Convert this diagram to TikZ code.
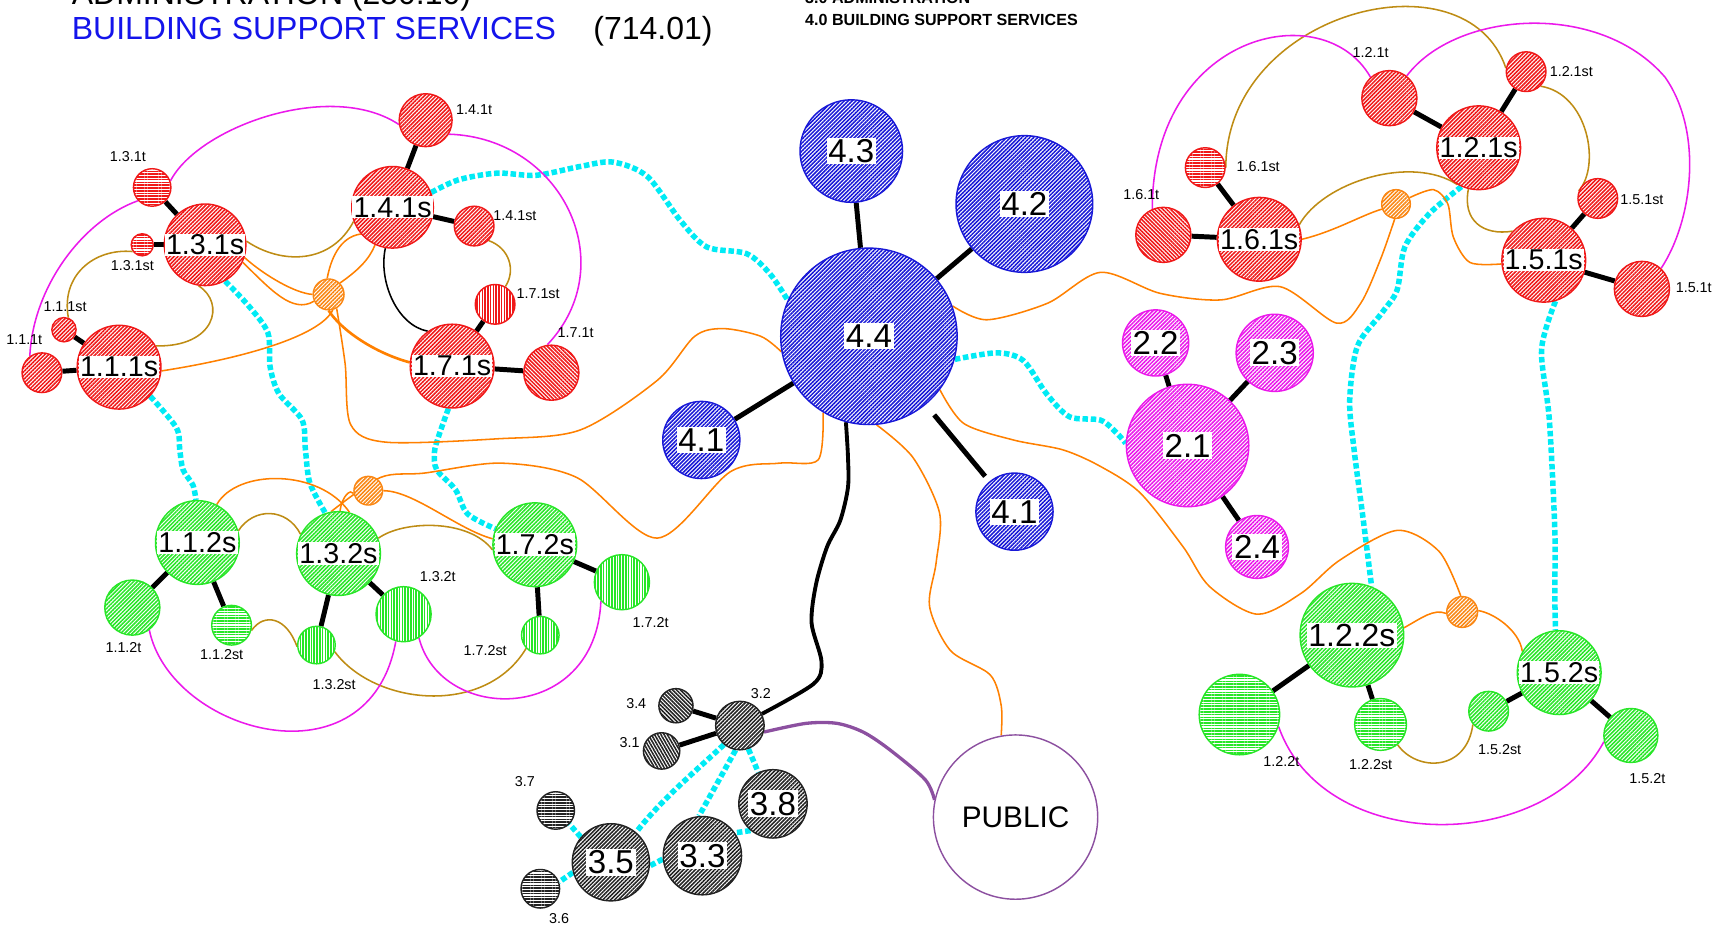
\documentclass[tikz,border=0pt]{standalone}
\usepackage{fontspec}
\setmainfont{Liberation Sans}
\usetikzlibrary{patterns.meta,backgrounds}
\definecolor{rmred}{RGB}{240,25,25}
\definecolor{rmgreen}{RGB}{40,230,40}
\definecolor{rmblue}{RGB}{25,25,215}
\definecolor{rmpink}{RGB}{235,25,235}
\definecolor{rmgrey}{RGB}{35,35,35}
\definecolor{hubor}{RGB}{250,135,20}
\definecolor{flowor}{RGB}{255,128,0}
\definecolor{goldline}{RGB}{190,140,20}
\definecolor{cyanline}{RGB}{0,235,245}
\definecolor{pubpurple}{RGB}{140,80,160}
\definecolor{hdblue}{RGB}{20,20,235}
\tikzset{
  rm/.style={circle, draw=#1, line width=1.3pt, inner sep=0pt, preaction={fill=white},
    pattern={Lines[angle=45,distance=2.5pt,line width=1.4pt]}, pattern color=#1},
  hatch/.style={pattern={Lines[angle=#1,distance=2.5pt,line width=1.4pt]}},
  hub/.style={rm=hubor, minimum size=#1},
  roomtag/.style={fill=white, inner sep=1pt, font=\fontsize{26}{26}\selectfont},
  numtag/.style={fill=white, inner sep=1.5pt, font=\fontsize{30}{30}\selectfont},
  smalltag/.style={inner sep=0pt, font=\fontsize{13}{13}\selectfont},
  spoke/.style={line width=4.5pt},
  walkway/.style={cyanline, line width=5pt, dash pattern=on 5pt off 2.5pt},
  flowline/.style={flowor, line width=1.4pt},
  pairline/.style={goldline, line width=1.4pt},
  levelline/.style={rmpink, line width=1.4pt},
  publine/.style={pubpurple, line width=3pt},
}
\begin{document}
\begin{tikzpicture}[x=1pt, y=-1pt]
\useasboundingbox (0,0) rectangle (1568,843);
% headings
\node[anchor=base west, inner sep=0pt, font=\fontsize{29}{29}\selectfont] (hdadm) at (65,4.5) {ADMINISTRATION (250.10)};
\node[anchor=base west, inner sep=0pt, font=\fontsize{29}{29}\selectfont, text=hdblue] (hdbss) at (65,35.4) {BUILDING SUPPORT SERVICES};
\node[anchor=base west, inner sep=0pt, font=\fontsize{29}{29}\selectfont] (hdnum) at (538,35.4) {(714.01)};
\node[anchor=base west, inner sep=0pt, font=\bfseries\fontsize{14.6}{14.6}\selectfont] (keyadm) at (730,3.6) {3.0 ADMINISTRATION};
\node[anchor=base west, inner sep=0pt, font=\bfseries\fontsize{14.6}{14.6}\selectfont] (keybss) at (730,22.7) {4.0 BUILDING SUPPORT SERVICES};

% level 1, left
\node[rm=rmred, minimum size=74, label={[roomtag]center:1.3.1s}] (r13s) at (186,222) {};
\node[rm=rmred, hatch=0, minimum size=34] (r13t) at (138,170) {};
\node[rm=rmred, hatch=0, minimum size=20] (r13st) at (129,222) {};
\node[rm=rmred, minimum size=74, label={[roomtag]center:1.4.1s}] (r14s) at (356,188) {};
\node[rm=rmred, minimum size=48] (r14t) at (386,109) {};
\node[rm=rmred, minimum size=36] (r14st) at (430,205) {};
\node[rm=rmred, minimum size=76, label={[roomtag]center:1.7.1s}] (r17s) at (410,332) {};
\node[rm=rmred, hatch=90, minimum size=36] (r17st) at (449,276) {};
\node[rm=rmred, hatch=-45, minimum size=50] (r17t) at (500,338) {};
\node[rm=rmred, minimum size=76, label={[roomtag]center:1.1.1s}] (r11s) at (108,333) {};
\node[rm=rmred, minimum size=22] (r11st) at (58,299) {};
\node[rm=rmred, minimum size=36] (r11t) at (38,338) {};
\node[hub=28] (hubL) at (298,267) {};
% level 1, right
\node[rm=rmred, minimum size=76, label={[roomtag]center:1.2.1s}] (r12s) at (1341,134) {};
\node[rm=rmred, minimum size=50] (r12t) at (1260,89) {};
\node[rm=rmred, minimum size=36] (r12st) at (1384,65) {};
\node[rm=rmred, minimum size=76, label={[roomtag]center:1.6.1s}] (r16s) at (1142,217) {};
\node[rm=rmred, hatch=0, minimum size=36] (r16st) at (1093,152) {};
\node[rm=rmred, hatch=-45, minimum size=50] (r16t) at (1055,213) {};
\node[rm=rmred, minimum size=76, label={[roomtag]center:1.5.1s}] (r15s) at (1400,236) {};
\node[rm=rmred, minimum size=36] (r15st) at (1449,180) {};
\node[rm=rmred, minimum size=50] (r15t) at (1489,262) {};
\node[hub=26] (hubR) at (1266,185) {};
% level 2
\node[rm=rmgreen, minimum size=76, label={[roomtag]center:1.1.2s}] (g112s) at (179,492) {};
\node[rm=rmgreen, minimum size=50] (g112t) at (120,551) {};
\node[rm=rmgreen, hatch=0, minimum size=36] (g112st) at (210,567) {};
\node[rm=rmgreen, minimum size=76, label={[roomtag]center:1.3.2s}] (g132s) at (307,502) {};
\node[rm=rmgreen, hatch=90, minimum size=34] (g132st) at (287,585) {};
\node[rm=rmgreen, hatch=90, minimum size=50] (g132t) at (366,557) {};
\node[rm=rmgreen, minimum size=76, label={[roomtag]center:1.7.2s}] (g172s) at (485,494) {};
\node[rm=rmgreen, hatch=90, minimum size=50] (g172t) at (564,528) {};
\node[rm=rmgreen, hatch=90, minimum size=34] (g172st) at (490,576) {};
\node[hub=26] (hubGL) at (334,445) {};
\node[rm=rmgreen, minimum size=94, label={[roomtag, font=\fontsize{29}{29}\selectfont]center:1.2.2s}] (g122s) at (1226,576) {};
\node[rm=rmgreen, hatch=0, minimum size=73] (g122t) at (1124,648) {};
\node[rm=rmgreen, hatch=0, minimum size=47] (g122st) at (1252,657) {};
\node[rm=rmgreen, minimum size=76, label={[roomtag]center:1.5.2s}] (g152s) at (1414,610) {};
\node[rm=rmgreen, minimum size=36] (g152st) at (1350,645) {};
\node[rm=rmgreen, minimum size=49] (g152t) at (1479,667) {};
\node[hub=28] (hubGR) at (1326,555) {};
% building support
\node[rm=rmblue, minimum size=160, label={[numtag]center:4.4}] (b44) at (788,305) {};
\node[rm=rmblue, minimum size=93, label={[numtag]center:4.3}] (b43) at (772,137) {};
\node[rm=rmblue, minimum size=124, label={[numtag]center:4.2}] (b42) at (929,185) {};
\node[rm=rmblue, minimum size=70, label={[numtag]center:4.1}] (b41a) at (636,399) {};
\node[rm=rmblue, minimum size=70, label={[numtag]center:4.1}] (b41b) at (920,464) {};
% 2.x
\node[rm=rmpink, minimum size=111, label={[numtag]center:2.1}] (m21) at (1077,404) {};
\node[rm=rmpink, minimum size=60, label={[numtag]center:2.2}] (m22) at (1048,311) {};
\node[rm=rmpink, minimum size=70, label={[numtag]center:2.3}] (m23) at (1156,320) {};
\node[rm=rmpink, minimum size=57, label={[numtag]center:2.4}] (m24) at (1140,496) {};
% administration
\node[rm=rmgrey, minimum size=44] (k32) at (671,658) {};
\node[rm=rmgrey, hatch=-45, minimum size=31] (k34) at (613,640) {};
\node[rm=rmgrey, hatch=-60, minimum size=33] (k31) at (600,681) {};
\node[rm=rmgrey, minimum size=62, label={[numtag]center:3.8}] (k38) at (701,729) {};
\node[rm=rmgrey, minimum size=71, label={[numtag]center:3.3}] (k33) at (637,776) {};
\node[rm=rmgrey, minimum size=70, label={[numtag]center:3.5}] (k35) at (554,782) {};
\node[rm=rmgrey, hatch=0, minimum size=34] (k37) at (504,735) {};
\node[rm=rmgrey, hatch=0, minimum size=35] (k36) at (490,806) {};
\node[circle, draw=pubpurple, line width=1.3pt, minimum size=149, font=\fontsize{27}{27}\selectfont] (pub) at (921,741) {PUBLIC};

% small labels
\node[smalltag] (l13t) at (116,142) {1.3.1t};
\node[smalltag] (l13st) at (120,241) {1.3.1st};
\node[smalltag] (l14t) at (430,99) {1.4.1t};
\node[smalltag] (l14st) at (467,196) {1.4.1st};
\node[smalltag] (l17st) at (488,266) {1.7.1st};
\node[smalltag] (l17t) at (522,302) {1.7.1t};
\node[smalltag] (l11st) at (59,278) {1.1.1st};
\node[smalltag] (l11t) at (22,308) {1.1.1t};
\node[smalltag] (l12t) at (1243,48) {1.2.1t};
\node[smalltag] (l12st) at (1425,65) {1.2.1st};
\node[smalltag] (l16st) at (1141,151) {1.6.1st};
\node[smalltag] (l16t) at (1035,176) {1.6.1t};
\node[smalltag] (l15st) at (1489,181) {1.5.1st};
\node[smalltag] (l15t) at (1536,261) {1.5.1t};
\node[smalltag] (l112t) at (112,587) {1.1.2t};
\node[smalltag] (l112st) at (201,594) {1.1.2st};
\node[smalltag] (l132st) at (303,621) {1.3.2st};
\node[smalltag] (l132t) at (397,523) {1.3.2t};
\node[smalltag] (l172st) at (440,590) {1.7.2st};
\node[smalltag] (l172t) at (590,565) {1.7.2t};
\node[smalltag] (l122t) at (1162,691) {1.2.2t};
\node[smalltag] (l122st) at (1243,693) {1.2.2st};
\node[smalltag] (l152st) at (1360,680) {1.5.2st};
\node[smalltag] (l152t) at (1494,706) {1.5.2t};
\node[smalltag] (l32) at (690,629) {3.2};
\node[smalltag] (l34) at (577,638) {3.4};
\node[smalltag] (l31) at (571,673) {3.1};
\node[smalltag] (l37) at (476,709) {3.7};
\node[smalltag] (l36) at (507,833) {3.6};

\begin{scope}[on background layer]
\foreach \a/\b in {r13s/r13t, r13s/r13st, r14s/r14t, r14s/r14st, r17s/r17st, r17s/r17t,
    r11s/r11st, r11s/r11t, r12s/r12t, r12s/r12st, r16s/r16st, r16s/r16t, r15s/r15st,
    r15s/r15t, g112s/g112t, g112s/g112st, g132s/g132st, g132s/g132t, g172s/g172st,
    g172s/g172t, g122s/g122t, g122s/g122st, g152s/g152st, g152s/g152t, b44/b43,
    b44/b42, b44/b41a, m21/m22, m21/m23, m21/m24, k32/k34, k32/k31}
  \draw[spoke] (\a) -- (\b);
\draw[spoke, shorten <=12pt, shorten >=6pt] (b44) -- (b41b);
\draw[spoke, line width=3.5pt] plot[smooth] coordinates {(b44.-105) (769,414) (769,442) (762,472) (750,496) (740,530) (736,565) (745,600) (738,620) (k32.28)};
\draw[publine] plot[smooth] coordinates {(k32.-15) (731,656) (759,656) (783,664) (807,680) (839,707) (pub.168)};

% circulation
\draw[walkway] plot[smooth] coordinates {(r14s.21) (416,163) (451,157) (486,159) (526,151) (556,147) (587,160) (617,200) (641,224) (677,230) (698,248) (b44.156)};
\draw[walkway] plot[smooth] coordinates {(r13s.-61) (226,278) (243,302) (245,333) (253,357) (274,381) (277,408) (281,438) (g132s.108)};
\draw[walkway] plot[smooth] coordinates {(r11s.-43) (160,388) (163,408) (166,426) (175,440) (g112s.92)};
\draw[walkway] plot[smooth] coordinates {(r17s.-95) (398,395) (394,410) (396,426) (413,444) (424,466) (g172s.158)};
\draw[walkway] plot[smooth] coordinates {(b44.-15) (904,320) (928,327) (949,357) (970,378) (998,381) (1013,393) (m21.178)};
\draw[walkway] plot[smooth] coordinates {(r12s.-114) (1296,194) (1274,224) (1267,263) (1253,284) (1231,314) (1224,363) (1228,408) (1236,469) (g122s.68)};
\draw[walkway] plot[smooth] coordinates {(r15s.-74) (1398,317) (1405,380) (1410,480) (1410,538) (g152s.95)};
\draw[walkway] (k32.-130) .. controls (630,700) and (600,725) .. (k35.50);
\draw[walkway] (k32.-100) -- (k33.95);
\draw[walkway] (k32.-70) -- (k38.115);
\draw[walkway] (k38.-130) -- (k33.35);
\draw[walkway] (k33.185) -- (k35.-5);
\draw[walkway] (k35.140) -- (k37.-45);
\draw[walkway] (k35.195) -- (k36.20);

% orange
\draw[flowline] (r13s.-18) .. controls (240,250) and (268,266) .. (hubL.180);
\draw[flowline] (r13s.-25) .. controls (245,262) and (265,285) .. (hubL.205);
\draw[flowline, line width=2.4pt] (hubL.-90) .. controls (310,300) and (340,320) .. (r17s.175);
\draw[flowline] (hubL.95) .. controls (300,235) and (308,215) .. (r14s.-140);
\draw[flowline] (hubL.45) .. controls (325,245) and (335,235) .. (r14s.-115);
\draw[flowline] (r11s.-5) .. controls (220,325) and (290,305) .. (hubL.-75);
\draw[flowline] plot[smooth] coordinates {(hubL.-60) (313,330) (318,385) (350,401) (450,398) (526,390) (596,345) (630,305) (656,298) (690,305) (b44.190)};
\draw[flowline] plot[smooth] coordinates {(b44.-121) (742,417) (707,420) (662,428) (596,488) (523,433) (454,420) (385,429) (345,433) (g132s.100)};
\draw[flowline] (g112s.63) .. controls (215,425) and (290,425) .. (g132s.75);
\draw[flowline] (g132s.88) .. controls (310,450) and (318,443) .. (hubGL.190);
\draw[flowline] (hubGL.0) .. controls (375,445) and (415,480) .. (g172s.172);
\draw[flowline] plot[smooth] coordinates {(b44.20) (895,290) (950,275) (998,247) (1052,266) (1107,272) (1161,260) (1212,293) (1234,275) (1252,235) (hubR.-95)};
\draw[flowline] (r16s.0) .. controls (1210,210) and (1235,195) .. (hubR.200);
\draw[flowline] plot[smooth] coordinates {(hubR.25) (1300,172) (1313,185) (1318,215) (1333,238) (r15s.185)};
\draw[flowline] plot[smooth] coordinates {(b44.-37) (874,384) (919,399) (964,408) (998,423) (1034,447) (1073,496) (1097,532) (1140,557) (1180,538) (1215,508) (1267,481) (1305,500) (hubGR.95)};
\draw[flowline] (g122s.8) .. controls (1290,560) and (1300,552) .. (hubGR.185);
\draw[flowline] (hubGR.5) .. controls (1355,556) and (1378,572) .. (g152s.150);
\draw[flowline] plot[smooth] coordinates {(b44.-85) (828,415) (852,465) (849,510) (843,550) (862,590) (898,612) (908,640) (pub.100)};

% pairs
\draw[pairline] (r13s.5) .. controls (255,240) and (300,240) .. (r14s.200);
\draw[pairline] (r13st.215) .. controls (85,225) and (55,250) .. (r11st.70);
\draw[pairline] (r13s.-99) .. controls (205,275) and (195,315) .. (r11s.30);
\draw[pairline] (r14st.-45) .. controls (462,225) and (468,245) .. (r17st.60);
\draw[line width=1.4pt] (r14s.-100) .. controls (343,255) and (360,295) .. (r17s.125);
\draw[pairline] (g112s.16) .. controls (230,460) and (260,460) .. (g132s.153);
\draw[pairline] (g112st.-15) .. controls (240,555) and (260,560) .. (g132st.185);
\draw[pairline] (g132s.21) .. controls (365,472) and (425,470) .. (g172s.187);
\draw[pairline] (g132st.-20) .. controls (340,640) and (440,650) .. (g172st.223);
\draw[pairline] (r16st.0) .. controls (1112,10) and (1330,-45) .. (r12st.170);
\draw[pairline] (r12st.-45) .. controls (1440,85) and (1452,150) .. (r15st.158);
\draw[pairline] (r16s.20) .. controls (1200,165) and (1280,140) .. (r12s.-120);
\draw[pairline] (r12s.-104) .. controls (1326,200) and (1345,214) .. (r15s.137);
\draw[pairline] (g122st.-50) .. controls (1285,700) and (1330,700) .. (g152st.220);

% levels
\draw[levelline] (r11t.126) .. controls (30,260) and (75,200) .. (r13t.223);
\draw[levelline] (r13t.20) .. controls (180,115) and (300,72) .. (r14t.189);
\draw[levelline] (r14t.-31) .. controls (510,125) and (565,240) .. (r17t.98);
\draw[levelline] (g112t.-53) .. controls (155,665) and (335,715) .. (g132t.-106);
\draw[levelline] (g132t.-57) .. controls (400,657) and (540,657) .. (g172t.-138);
\draw[levelline] (r16t.113) .. controls (1045,30) and (1200,-5) .. (r12t.132);
\draw[levelline] (r12t.52) .. controls (1320,10) and (1450,0) .. (1510,70) .. controls (1545,120) and (1535,200) .. (r15t.47);
\draw[levelline] (g122t.-17) .. controls (1200,775) and (1400,775) .. (g152t.193);
\end{scope}
\end{tikzpicture}
\end{document}
